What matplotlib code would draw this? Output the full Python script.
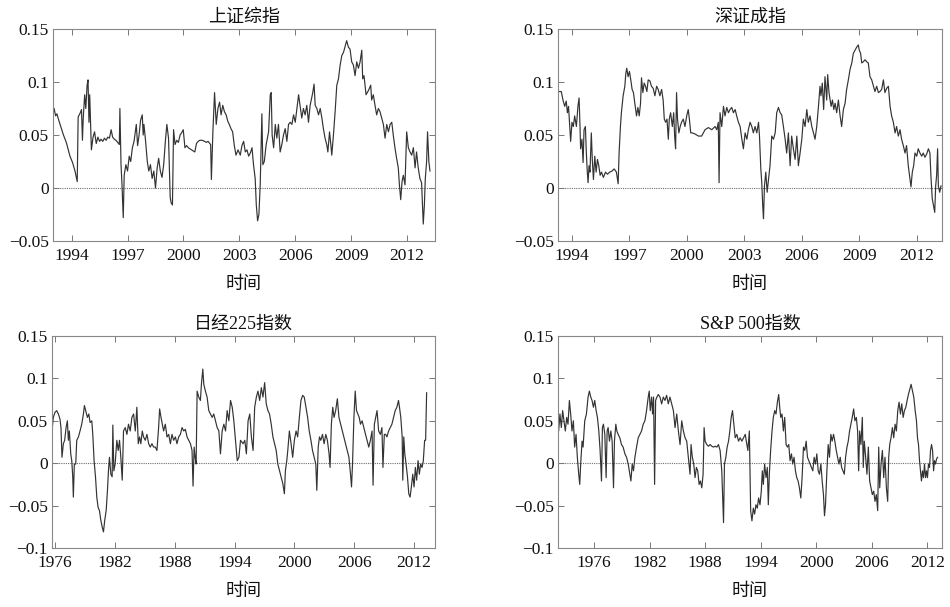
import matplotlib
matplotlib.use("Agg")
import matplotlib.pyplot as plt

plt.rcParams['font.family'] = ['Liberation Serif', 'Noto Sans CJK SC']
plt.rcParams['axes.unicode_minus'] = True

titles = ['上证综指', '深证成指', '日经225指数', 'S&P 500指数']
xlabel_text = '时间'

sse = [(1992.99,0.072),(1993.06,0.075),(1993.14,0.068),(1993.21,0.070),(1993.29,0.065),(1993.38,0.060),(1993.47,0.055),(1993.56,0.050),(1993.65,0.046),(1993.73,0.042),(1993.82,0.036),(1993.91,0.030),(1994.05,0.024),(1994.18,0.016),(1994.30,0.006),(1994.35,0.067),(1994.44,0.070),(1994.53,0.074),(1994.58,0.045),(1994.62,0.065),(1994.70,0.088),(1994.76,0.075),(1994.83,0.097),(1994.88,0.102),(1994.93,0.062),(1994.97,0.088),(1995.06,0.036),(1995.15,0.048),(1995.23,0.053),(1995.32,0.042),(1995.41,0.048),(1995.50,0.044),(1995.58,0.046),(1995.67,0.044),(1995.76,0.047),(1995.85,0.045),(1995.94,0.048),(1996.03,0.047),(1996.12,0.055),(1996.20,0.048),(1996.29,0.046),(1996.38,0.045),(1996.47,0.043),(1996.56,0.041),(1996.59,0.075),(1996.65,0.022),(1996.70,0.004),(1996.77,-0.028),(1996.82,0.012),(1996.91,0.022),(1997.00,0.016),(1997.09,0.030),(1997.17,0.025),(1997.26,0.038),(1997.35,0.044),(1997.47,0.060),(1997.54,0.040),(1997.62,0.050),(1997.70,0.064),(1997.79,0.069),(1997.84,0.050),(1997.88,0.060),(1997.97,0.044),(1998.06,0.025),(1998.14,0.016),(1998.23,0.022),(1998.32,0.009),(1998.41,0.016),(1998.50,0.000),(1998.59,0.019),(1998.67,0.028),(1998.76,0.016),(1998.85,0.010),(1998.94,0.022),(1999.03,0.044),(1999.11,0.060),(1999.20,0.047),(1999.29,-0.009),(1999.34,-0.014),(1999.41,-0.016),(1999.47,0.055),(1999.55,0.041),(1999.64,0.045),(1999.73,0.043),(1999.82,0.050),(1999.90,0.052),(1999.99,0.055),(2000.08,0.038),(2000.17,0.040),(2000.26,0.038),(2000.35,0.037),(2000.44,0.036),(2000.52,0.035),(2000.61,0.034),(2000.70,0.042),(2000.79,0.044),(2000.88,0.045),(2001.01,0.045),(2001.14,0.044),(2001.23,0.043),(2001.32,0.044),(2001.46,0.041),(2001.50,0.008),(2001.58,0.053),(2001.67,0.090),(2001.76,0.060),(2001.85,0.075),(2001.94,0.081),(2002.02,0.069),(2002.11,0.078),(2002.20,0.072),(2002.29,0.069),(2002.38,0.063),(2002.46,0.060),(2002.55,0.056),(2002.64,0.053),(2002.73,0.040),(2002.82,0.031),(2002.93,0.036),
       (2003.05,0.031),(2003.14,0.040),(2003.23,0.044),(2003.32,0.034),(2003.41,0.036),(2003.50,0.030),(2003.59,0.033),(2003.68,0.038),(2003.76,0.022),(2003.85,0.009),(2003.91,-0.016),(2003.98,-0.031),(2004.05,-0.025),(2004.12,0.003),(2004.21,0.070),(2004.26,0.022),(2004.34,0.025),(2004.44,0.041),(2004.57,0.053),(2004.66,0.088),(2004.71,0.090),(2004.76,0.050),(2004.84,0.038),(2004.93,0.060),(2005.01,0.047),(2005.10,0.060),(2005.19,0.034),(2005.28,0.041),(2005.37,0.050),(2005.46,0.056),(2005.55,0.044),(2005.64,0.060),(2005.73,0.062),(2005.82,0.060),(2005.91,0.069),(2006.00,0.062),(2006.09,0.075),(2006.18,0.088),(2006.26,0.078),(2006.35,0.066),(2006.44,0.075),(2006.53,0.069),(2006.62,0.078),(2006.71,0.062),(2006.80,0.078),(2006.94,0.090),(2007.01,0.098),(2007.07,0.078),(2007.16,0.075),(2007.25,0.069),(2007.34,0.075),(2007.43,0.066),(2007.51,0.056),(2007.60,0.047),(2007.69,0.041),(2007.75,0.034),(2007.84,0.053),(2007.91,0.041),(2007.96,0.031),(2008.05,0.050),(2008.14,0.072),(2008.23,0.097),(2008.32,0.103),(2008.41,0.116),(2008.50,0.125),(2008.59,0.128),(2008.68,0.134),(2008.76,0.139),(2008.85,0.133),(2008.94,0.131),(2009.03,0.119),(2009.12,0.116),(2009.21,0.106),(2009.30,0.119),(2009.39,0.113),(2009.48,0.119),(2009.57,0.130),(2009.62,0.103),(2009.69,0.106),(2009.80,0.088),(2009.93,0.092),(2010.05,0.097),(2010.10,0.083),(2010.19,0.088),(2010.28,0.078),(2010.37,0.069),(2010.46,0.075),(2010.55,0.072),(2010.64,0.066),(2010.73,0.060),(2010.82,0.047),(2010.91,0.060),(2011.00,0.053),(2011.09,0.060),(2011.18,0.062),(2011.26,0.050),(2011.35,0.038),(2011.44,0.028),(2011.53,0.019),(2011.59,0.003),(2011.66,-0.011),(2011.73,0.006),(2011.80,0.012),(2011.89,0.003),(2011.98,0.053),(2012.07,0.038),(2012.16,0.034),(2012.25,0.031),(2012.34,0.038),(2012.43,0.019),(2012.51,0.034),(2012.60,0.019),(2012.69,0.009),(2012.78,0.005),(2012.87,-0.034),(2012.93,-0.016),(2012.98,0.009),(2013.05,0.025),(2013.10,0.053),(2013.17,0.025),(2013.23,0.016)]

szse = [(1993.27,0.091),(1993.44,0.091),(1993.53,0.083),(1993.62,0.077),(1993.70,0.082),(1993.76,0.071),(1993.82,0.077),(1993.88,0.058),(1993.93,0.044),(1994.00,0.062),(1994.07,0.058),(1994.14,0.068),(1994.23,0.058),(1994.31,0.077),(1994.37,0.085),(1994.42,0.058),(1994.45,0.037),(1994.52,0.046),(1994.58,0.024),(1994.63,0.055),(1994.70,0.058),(1994.75,0.033),(1994.80,0.015),(1994.84,0.005),(1994.89,0.021),(1994.94,0.015),(1995.01,0.052),(1995.06,0.027),(1995.12,0.008),(1995.19,0.030),(1995.26,0.015),(1995.33,0.027),(1995.40,0.021),(1995.47,0.012),(1995.54,0.015),(1995.64,0.010),(1995.75,0.015),(1995.85,0.013),(1995.97,0.015),(1996.09,0.016),(1996.20,0.018),(1996.32,0.015),(1996.41,0.004),(1996.46,0.033),(1996.53,0.058),(1996.58,0.071),(1996.67,0.087),(1996.76,0.096),(1996.81,0.108),(1996.86,0.113),(1996.93,0.105),(1997.00,0.110),(1997.07,0.102),(1997.14,0.093),(1997.21,0.090),(1997.28,0.080),(1997.37,0.068),(1997.44,0.076),(1997.51,0.068),(1997.58,0.080),(1997.63,0.104),(1997.70,0.090),(1997.77,0.099),(1997.84,0.096),(1997.91,0.091),(1997.98,0.102),(1998.07,0.101),(1998.15,0.096),(1998.24,0.094),(1998.33,0.087),(1998.42,0.096),(1998.50,0.093),(1998.59,0.087),(1998.68,0.093),(1998.76,0.083),(1998.82,0.065),(1998.89,0.062),(1998.96,0.065),(1999.03,0.046),(1999.08,0.065),(1999.15,0.071),(1999.24,0.058),(1999.31,0.071),(1999.36,0.049),(1999.41,0.037),(1999.46,0.090),(1999.51,0.065),(1999.58,0.052),(1999.65,0.058),(1999.72,0.062),(1999.81,0.065),(1999.90,0.058),(1999.99,0.068),(2000.07,0.074),(2000.13,0.065),(2000.20,0.052),(2000.28,0.052),(2000.42,0.051),(2000.60,0.049),(2000.77,0.049),(2000.95,0.055),(2001.12,0.057),(2001.30,0.055),(2001.47,0.058),(2001.56,0.055),(2001.64,0.062),(2001.68,0.005),(2001.73,0.071),(2001.82,0.058),(2001.91,0.077),(2001.99,0.068),(2002.08,0.076),(2002.17,0.071),(2002.25,0.074),(2002.34,0.076),(2002.43,0.071),(2002.52,0.074),(2002.60,0.068),(2002.69,0.062),(2002.78,0.058),(2002.87,0.046),(2002.95,0.037),
        (2003.04,0.052),(2003.13,0.046),(2003.21,0.055),(2003.30,0.062),(2003.39,0.058),(2003.47,0.052),(2003.56,0.058),(2003.65,0.052),(2003.74,0.062),(2003.79,0.049),(2003.86,0.018),(2003.91,0.005),(2003.96,-0.017),(2004.00,-0.029),(2004.05,0.002),(2004.12,0.015),(2004.19,-0.004),(2004.26,0.008),(2004.34,0.021),(2004.43,0.049),(2004.52,0.046),(2004.61,0.052),(2004.69,0.071),(2004.78,0.076),(2004.87,0.071),(2004.95,0.069),(2005.04,0.058),(2005.13,0.046),(2005.21,0.033),(2005.30,0.052),(2005.39,0.021),(2005.47,0.049),(2005.56,0.037),(2005.65,0.027),(2005.74,0.049),(2005.82,0.021),(2005.91,0.033),(2006.00,0.046),(2006.08,0.065),(2006.17,0.058),(2006.26,0.074),(2006.34,0.062),(2006.43,0.068),(2006.52,0.058),(2006.61,0.052),(2006.69,0.046),(2006.78,0.058),(2006.87,0.077),(2006.95,0.096),(2007.00,0.087),(2007.07,0.099),(2007.14,0.074),(2007.21,0.105),(2007.30,0.083),(2007.35,0.107),(2007.42,0.090),(2007.53,0.077),(2007.60,0.083),(2007.67,0.074),(2007.74,0.080),(2007.82,0.071),(2007.91,0.083),(2008.00,0.068),(2008.08,0.058),(2008.17,0.074),(2008.26,0.080),(2008.34,0.093),(2008.43,0.102),(2008.52,0.112),(2008.61,0.118),(2008.69,0.127),(2008.78,0.130),(2008.87,0.133),(2008.95,0.135),(2009.00,0.130),(2009.07,0.127),(2009.13,0.118),(2009.21,0.119),(2009.30,0.121),(2009.39,0.119),(2009.47,0.118),(2009.56,0.105),(2009.65,0.102),(2009.74,0.096),(2009.82,0.091),(2009.91,0.096),(2010.00,0.090),(2010.08,0.091),(2010.17,0.093),(2010.26,0.102),(2010.34,0.090),(2010.43,0.094),(2010.52,0.096),(2010.61,0.077),(2010.69,0.068),(2010.78,0.062),(2010.87,0.052),(2010.95,0.058),(2011.04,0.049),(2011.13,0.055),(2011.21,0.046),(2011.30,0.040),(2011.39,0.033),(2011.47,0.040),(2011.56,0.021),(2011.65,0.008),(2011.70,0.001),(2011.77,0.015),(2011.84,0.021),(2011.91,0.033),(2012.00,0.030),(2012.08,0.037),(2012.17,0.033),(2012.26,0.030),(2012.34,0.033),(2012.43,0.029),(2012.52,0.032),(2012.61,0.037),(2012.69,0.033),(2012.74,0.012),(2012.81,-0.010),(2012.88,-0.017),(2012.94,-0.023),(2012.99,0.002),(2013.04,0.012),(2013.09,0.037),(2013.13,0.002),(2013.20,-0.004),(2013.27,0.002)]

nikkei = [(1975.70,0.038),(1975.83,0.054),(1976.00,0.060),(1976.17,0.062),(1976.34,0.058),(1976.50,0.052),(1976.60,0.042),(1976.70,0.007),(1976.84,0.023),(1976.97,0.027),(1977.11,0.042),(1977.24,0.050),(1977.34,0.027),(1977.44,0.038),(1977.58,0.011),(1977.68,0.003),(1977.78,-0.016),(1977.84,-0.040),(1977.94,-0.001),(1978.08,-0.001),(1978.18,0.027),(1978.35,0.031),(1978.51,0.038),(1978.68,0.046),(1978.85,0.058),(1978.95,0.068),(1979.08,0.062),(1979.25,0.054),(1979.39,0.058),(1979.52,0.048),(1979.69,0.050),(1979.79,0.034),(1979.92,0.003),(1980.06,-0.016),(1980.19,-0.040),(1980.32,-0.052),(1980.46,-0.056),(1980.59,-0.067),(1980.73,-0.075),(1980.86,-0.081),(1980.99,-0.067),(1981.13,-0.056),(1981.26,-0.032),(1981.36,-0.009),(1981.46,0.007),(1981.60,-0.013),(1981.73,-0.016),(1981.80,0.045),(1981.90,-0.009),(1982.03,-0.001),(1982.20,0.027),(1982.34,0.015),(1982.47,0.027),(1982.60,0.007),(1982.74,-0.020),(1982.87,0.038),(1983.04,0.042),(1983.21,0.034),(1983.37,0.046),(1983.54,0.038),(1983.71,0.054),(1983.88,0.058),(1984.05,0.038),(1984.21,0.066),(1984.35,0.023),(1984.48,0.031),(1984.61,0.023),(1984.75,0.038),(1984.88,0.031),(1985.05,0.027),(1985.22,0.034),(1985.39,0.023),(1985.55,0.019),(1985.72,0.023),(1985.89,0.019),(1986.06,0.019),(1986.22,0.015),(1986.39,0.042),(1986.49,0.064),(1986.63,0.054),(1986.76,0.046),(1986.89,0.038),(1987.06,0.046),(1987.23,0.031),(1987.40,0.034),(1987.57,0.023),(1987.73,0.034),(1987.90,0.027),(1988.07,0.031),(1988.23,0.023),(1988.40,0.031),(1988.57,0.034),(1988.74,0.042),(1988.91,0.038),(1989.07,0.040),(1989.24,0.031),(1989.41,0.027),(1989.58,0.023),(1989.74,0.015),(1989.84,-0.027),(1989.95,0.019),(1990.05,0.007),(1990.15,-0.001),(1990.25,0.085),(1990.41,0.078),(1990.58,0.074),(1990.68,0.093),(1990.82,0.111),(1990.92,0.093),(1991.08,0.085),(1991.25,0.078),(1991.42,0.062),(1991.59,0.058),(1991.76,0.054),(1991.92,0.058),(1992.09,0.050),(1992.26,0.042),(1992.43,0.038),(1992.59,0.011),(1992.76,0.038),(1992.93,0.046),(1993.10,0.038),(1993.26,0.062),(1993.43,0.050),(1993.60,0.074),(1993.77,0.066),(1993.93,0.050),(1994.10,0.027),(1994.27,0.003),(1994.44,0.007),(1994.60,0.027),
          (1994.86,0.023),(1995.03,0.027),(1995.19,0.011),(1995.36,0.050),(1995.53,0.058),(1995.69,0.031),(1995.86,0.015),(1996.02,0.066),(1996.19,0.078),(1996.35,0.085),(1996.52,0.074),(1996.69,0.089),(1996.85,0.078),(1997.02,0.095),(1997.18,0.070),(1997.35,0.062),(1997.51,0.058),(1997.68,0.046),(1997.85,0.031),(1998.01,0.023),(1998.18,0.015),(1998.34,-0.001),(1998.51,-0.009),(1998.67,-0.016),(1998.84,-0.024),(1999.00,-0.036),(1999.10,-0.009),(1999.24,0.003),(1999.34,0.015),(1999.50,0.038),(1999.67,0.023),(1999.83,0.007),(2000.00,0.027),(2000.17,0.038),(2000.33,0.031),(2000.50,0.054),(2000.66,0.074),(2000.83,0.080),(2000.99,0.078),(2001.16,0.066),(2001.33,0.054),(2001.49,0.038),(2001.66,0.027),(2001.82,0.015),(2001.99,0.007),(2002.15,-0.001),(2002.25,-0.032),(2002.39,0.019),(2002.52,0.031),(2002.65,0.027),(2002.82,0.034),(2002.98,0.023),(2003.15,0.034),(2003.31,0.027),(2003.48,0.011),(2003.58,-0.005),(2003.71,0.046),(2003.85,0.066),(2003.98,0.054),(2004.14,0.062),(2004.31,0.076),(2004.47,0.054),(2004.64,0.046),(2004.81,0.038),(2004.97,0.031),(2005.14,0.023),(2005.30,0.015),(2005.47,0.007),(2005.63,-0.013),(2005.73,-0.028),(2005.83,-0.001),(2005.97,0.054),(2006.10,0.085),(2006.23,0.062),(2006.36,0.058),(2006.50,0.054),(2006.63,0.046),(2006.79,0.050),(2006.96,0.042),(2007.13,0.034),(2007.29,0.027),(2007.46,0.019),(2007.62,0.027),(2007.79,0.038),(2007.89,-0.026),(2008.02,0.046),(2008.15,0.054),(2008.29,0.062),(2008.45,0.038),(2008.62,0.034),(2008.78,0.042),(2008.88,-0.005),(2009.02,0.034),(2009.15,0.034),(2009.28,0.031),(2009.45,0.038),(2009.61,0.042),(2009.78,0.046),(2009.94,0.054),(2010.11,0.062),(2010.28,0.066),(2010.44,0.074),(2010.54,0.066),(2010.67,0.054),(2010.81,0.031),(2010.87,-0.020),(2010.97,0.031),(2011.07,0.011),(2011.20,-0.001),(2011.34,-0.016),(2011.47,-0.036),(2011.60,-0.040),(2011.73,-0.028),(2011.87,-0.013),(2012.00,-0.028),(2012.13,-0.005),(2012.26,-0.020),(2012.40,0.003),(2012.53,-0.013),(2012.66,-0.001),(2012.80,-0.005),(2012.93,0.003),(2013.06,0.027),(2013.16,0.027),(2013.26,0.083)]

sp500 = [(1972.06,0.054),(1972.17,0.038),(1972.31,0.058),(1972.46,0.042),(1972.60,0.062),(1972.75,0.050),(1972.89,0.038),(1973.04,0.054),(1973.18,0.046),(1973.33,0.074),(1973.47,0.058),(1973.61,0.038),(1973.76,0.050),(1973.90,0.019),(1974.05,0.034),(1974.19,0.007),(1974.34,-0.013),(1974.45,-0.025),(1974.55,-0.001),(1974.70,0.026),(1974.81,0.019),(1974.99,0.050),(1975.17,0.058),(1975.35,0.078),(1975.49,0.085),(1975.64,0.078),(1975.78,0.074),(1975.93,0.066),(1976.07,0.074),(1976.22,0.062),(1976.36,0.054),(1976.51,0.038),(1976.65,0.015),(1976.80,-0.021),(1976.90,0.042),(1977.01,0.046),(1977.16,0.034),(1977.30,-0.017),(1977.41,0.038),(1977.52,0.042),(1977.66,0.026),(1977.81,0.038),(1977.95,0.026),(1978.10,-0.029),(1978.20,0.026),(1978.35,0.046),(1978.46,0.038),(1978.60,0.034),(1978.78,0.030),(1978.96,0.022),(1979.14,0.019),(1979.33,0.011),(1979.51,0.007),(1979.69,-0.001),(1979.87,-0.013),(1979.98,-0.021),(1980.12,-0.001),(1980.26,-0.009),(1980.41,0.007),(1980.59,0.019),(1980.77,0.030),(1980.95,0.034),(1981.13,0.038),(1981.31,0.046),(1981.49,0.050),(1981.67,0.062),(1981.85,0.078),(1981.96,0.085),(1982.07,0.062),(1982.22,0.078),(1982.32,0.058),(1982.43,0.078),(1982.54,-0.025),(1982.65,0.074),(1982.79,0.078),(1982.94,0.081),(1983.12,0.078),(1983.30,0.070),(1983.48,0.078),(1983.66,0.074),(1983.84,0.080),(1984.02,0.070),(1984.20,0.078),(1984.38,0.070),(1984.57,0.062),(1984.75,0.042),(1984.93,0.058),(1985.11,0.038),(1985.29,0.022),(1985.47,0.050),(1985.65,0.038),(1985.83,0.030),(1986.01,0.026),(1986.19,0.007),(1986.37,-0.013),(1986.48,0.022),(1986.62,0.007),(1986.77,-0.001),(1986.91,-0.017),(1987.06,-0.005),(1987.20,-0.009),(1987.35,-0.025),(1987.49,-0.021),(1987.64,-0.029),(1987.78,-0.013),(1987.89,0.042),(1988.00,0.026),(1988.18,0.022),(1988.36,0.020),(1988.54,0.022),(1988.72,0.020),(1988.90,0.019),(1989.08,0.020),(1989.26,0.019),(1989.44,0.022),(1989.62,0.015),(1989.80,-0.009),(1989.91,-0.044),(1989.99,-0.070),(1990.09,-0.001),(1990.24,0.007),(1990.38,0.019),(1990.53,0.026),(1990.67,0.038),(1990.82,0.054),(1990.96,0.062),(1991.11,0.046),(1991.25,0.030),(1991.43,0.034),(1991.61,0.026),(1991.79,0.030),(1991.97,0.026),(1992.15,0.030),(1992.34,0.034),
         (1992.45,0.026),(1992.62,0.015),(1992.78,0.038),(1992.92,-0.056),(1993.06,-0.068),(1993.21,-0.053),(1993.35,-0.060),(1993.49,-0.049),(1993.64,-0.053),(1993.78,-0.041),(1993.93,-0.049),(1994.07,-0.033),(1994.18,-0.009),(1994.29,-0.025),(1994.43,-0.001),(1994.58,-0.017),(1994.72,-0.005),(1994.83,-0.049),(1994.94,-0.013),(1995.08,0.015),(1995.23,0.038),(1995.37,0.054),(1995.52,0.062),(1995.66,0.058),(1995.81,0.072),(1995.95,0.081),(1996.06,0.066),(1996.17,0.054),(1996.31,0.058),(1996.46,0.038),(1996.60,0.054),(1996.75,0.022),(1996.89,0.019),(1997.04,0.022),(1997.18,0.003),(1997.33,0.011),(1997.47,-0.001),(1997.61,0.007),(1997.76,-0.009),(1997.90,-0.017),(1998.05,-0.021),(1998.19,-0.029),(1998.34,-0.041),(1998.48,-0.017),(1998.63,0.019),(1998.77,0.015),(1998.92,0.026),(1999.06,0.007),(1999.20,0.003),(1999.35,-0.001),(1999.49,-0.005),(1999.64,-0.009),(1999.78,0.007),(1999.93,-0.001),(2000.07,0.011),(2000.22,-0.009),(2000.36,-0.013),(2000.51,-0.001),(2000.65,-0.021),(2000.79,-0.037),(2000.90,-0.062),(2001.01,-0.049),(2001.16,-0.009),(2001.30,0.022),(2001.44,0.007),(2001.59,0.034),(2001.73,0.026),(2001.88,0.034),(2002.02,0.026),(2002.17,0.015),(2002.31,0.007),(2002.46,-0.001),(2002.60,0.007),(2002.75,-0.005),(2002.89,-0.009),(2003.04,-0.013),(2003.18,0.007),(2003.33,0.019),(2003.47,0.026),(2003.61,0.038),(2003.76,0.046),(2003.90,0.054),(2004.05,0.064),(2004.19,0.050),(2004.34,0.054),(2004.48,0.038),(2004.59,-0.009),(2004.70,0.038),(2004.84,0.022),(2004.99,0.054),(2005.09,-0.005),(2005.20,0.026),(2005.35,0.007),(2005.49,-0.013),(2005.64,0.019),(2005.78,-0.021),(2005.93,-0.029),(2006.07,-0.037),(2006.22,-0.033),(2006.36,-0.045),(2006.50,-0.037),(2006.65,-0.056),(2006.76,0.019),(2006.87,-0.029),(2007.01,-0.001),(2007.16,0.015),(2007.30,-0.017),(2007.44,0.007),(2007.59,-0.029),(2007.73,-0.045),(2007.84,0.007),(2007.95,0.022),(2008.09,0.030),(2008.24,0.042),(2008.38,0.030),(2008.53,0.046),(2008.67,0.038),(2008.82,0.062),(2008.96,0.072),(2009.11,0.058),(2009.25,0.070),(2009.40,0.054),(2009.54,0.062),(2009.69,0.066),(2009.83,0.074),(2009.97,0.081),(2010.12,0.087),(2010.26,0.093),(2010.41,0.085),(2010.55,0.078),(2010.70,0.062),(2010.84,0.050),(2010.95,0.030),(2011.06,0.022),(2011.17,0.003),(2011.27,-0.009),(2011.38,-0.021),(2011.49,-0.009),(2011.60,-0.017),(2011.71,-0.001),(2011.82,-0.017),(2011.93,-0.009),(2012.03,-0.017),(2012.14,-0.001),(2012.25,-0.005),(2012.36,0.015),(2012.47,0.022),(2012.58,0.015),(2012.69,-0.009),(2012.79,0.003),(2012.90,-0.001),(2013.01,0.005),(2013.12,0.007)]

series = [sse, szse, nikkei, sp500]
xlims = [(1993.0, 2013.5), (1993.27, 2013.32), (1975.7, 2014.1), (1972.1, 2013.6)]
ylims = [(-0.05, 0.15), (-0.05, 0.15), (-0.1, 0.15), (-0.1, 0.15)]
xticks_top = [1994, 1997, 2000, 2003, 2006, 2009, 2012]
xticks_bottom = [1976, 1982, 1988, 1994, 2000, 2006, 2012]
yticks_top = [-0.05, 0, 0.05, 0.1, 0.15]
ytick_labels_top = ['\u22120.05', '0', '0.05', '0.1', '0.15']
yticks_bottom = [-0.1, -0.05, 0, 0.05, 0.1, 0.15]
ytick_labels_bottom = ['\u22120.1', '\u22120.05', '0', '0.05', '0.1', '0.15']

W, H = 950, 607
fig = plt.figure(figsize=(W/100, H/100), dpi=100)

boxes = [(53, 29, 435, 241), (558, 29, 942, 241), (52, 336, 435, 548), (558, 336, 942, 548)]

for i, (data, (x0, y0, x1, y1)) in enumerate(zip(series, boxes)):
    ax = fig.add_axes([x0/W, 1 - y1/H, (x1-x0)/W, (y1-y0)/H])
    t = [p[0] for p in data]
    v = [p[1] for p in data]
    ax.axhline(0, color='#707070', lw=0.8, ls=(0, (1, 1)), zorder=1)
    ax.plot(t, v, color='#333333', lw=0.85, zorder=2)
    ax.set_xlim(*xlims[i])
    ax.set_ylim(*ylims[i])
    if i < 2:
        ax.set_xticks(xticks_top)
        ax.set_yticks(yticks_top)
        ax.set_yticklabels(ytick_labels_top)
    else:
        ax.set_xticks(xticks_bottom)
        ax.set_yticks(yticks_bottom)
        ax.set_yticklabels(ytick_labels_bottom)
    ax.set_xticklabels([str(x) for x in ax.get_xticks().astype(int)])
    ax.tick_params(direction='in', top=True, right=True, length=4, width=0.7,
                   color='#777777', labelsize=12.5, pad=3, labelcolor='#111111')
    ax.tick_params(axis='x', pad=5)
    for s in ax.spines.values():
        s.set_color('#888888')
        s.set_linewidth(0.8)
    ax.set_title(titles[i], fontsize=13, pad=5, color='#111111')
    ax.set_xlabel(xlabel_text, fontsize=13, labelpad=9, color='#111111')

fig.savefig('out.png', dpi=100)
